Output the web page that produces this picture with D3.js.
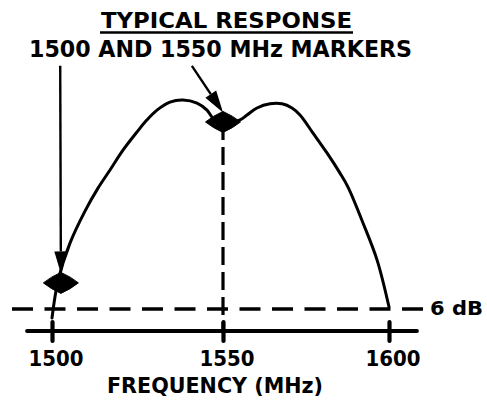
<!DOCTYPE html>
<html>
<head>
<meta charset="utf-8">
<script src="https://cdn.jsdelivr.net/npm/d3@7"></script>
<style>
  body { margin: 0; background: #fff; }
  svg { display: block; }
  text { font-family: "DejaVu Sans", sans-serif; font-weight: bold; fill: #000; }
</style>
</head>
<body>
<svg id="chart" width="487" height="400"></svg>
<script>
// Frequency axis ticks (MHz)
const freqTicks = [1500, 1550, 1600];

// Response trace: frequency (MHz) and relative level (dB)
const traceFreq = [1500, 1501.75, 1505.26, 1509.65, 1513.45, 1516.96, 1520.76, 1524.85,
                   1527.78, 1530.70, 1534.50, 1538.30, 1542.40, 1545.32, 1547.08, 1550.0,
                   1555.12, 1557.23, 1560.24, 1564.16, 1567.77, 1570.78, 1573.19, 1577.11,
                   1581.32, 1585.24, 1587.65, 1592.17, 1596.39, 1600];
const traceLevel = [-6.26, -5.20, -4.11, -3.19, -2.53, -2.01, -1.44, -0.92,
                    -0.57, -0.29, -0.06, 0.00, -0.09, -0.29, -0.52, -0.66,
                    -0.57, -0.43, -0.23, -0.11, -0.11, -0.23, -0.43, -0.95,
                    -1.52, -2.10, -2.50, -3.53, -4.59, -5.94];

// Marker positions on the trace
const markerFreq = [1502.6, 1550.0];
const markerLevel = [-5.25, -0.63];

// Arrow tails (pointing from the caption down to each marker)
const arrowTailFreq = [1502.4, 1540.9];
const arrowTailLevel = [0.98, 0.98];

// Reference level line
const refLevel = -6;
const refLabel = "6 dB";

const titleText = "TYPICAL RESPONSE";
const subtitleText = "1500 AND 1550 MHz MARKERS";
const xTitle = "FREQUENCY (MHz)";

const svg = d3.select("#chart");
const ink = "#000";

const x = d3.scaleLinear().domain(freqTicks).range([52, 223, 389]);
const y = d3.scaleLinear().domain([0, -6]).range([100, 309]);
const axisY = 331;

// Caption
svg.append("text").attr("x", 101).attr("y", 28)
  .attr("font-size", 22).attr("textLength", 251).attr("lengthAdjust", "spacingAndGlyphs")
  .text(titleText);
svg.append("line").attr("x1", 100).attr("x2", 353).attr("y1", 32.5).attr("y2", 32.5)
  .attr("stroke", ink).attr("stroke-width", 2.5);
svg.append("text").attr("x", 29).attr("y", 57)
  .attr("font-size", 23).attr("textLength", 383).attr("lengthAdjust", "spacingAndGlyphs")
  .text(subtitleText);

// Reference (-6 dB) dashed line
svg.append("line")
  .attr("x1", 12).attr("x2", 424)
  .attr("y1", y(refLevel)).attr("y2", y(refLevel))
  .attr("stroke", ink).attr("stroke-width", 3.5)
  .attr("stroke-dasharray", "21,11.5");
svg.append("text").attr("x", 430).attr("y", 315)
  .attr("font-size", 20).attr("textLength", 53).attr("lengthAdjust", "spacingAndGlyphs")
  .text(refLabel);

// Vertical dashed line under the 1550 marker
svg.append("line")
  .attr("x1", x(markerFreq[1])).attr("x2", x(markerFreq[1]))
  .attr("y1", y(markerLevel[1])).attr("y2", axisY)
  .attr("stroke", ink).attr("stroke-width", 3.2)
  .attr("stroke-dasharray", "18,7");

// Frequency axis
const axis = d3.axisBottom(x).tickValues(freqTicks).tickSize(0).tickFormat("");
const gAxis = svg.append("g").attr("transform", `translate(0,${axisY})`).call(axis);
gAxis.select(".domain").remove();
gAxis.append("line").attr("x1", 27).attr("x2", 417)
  .attr("stroke", ink).attr("stroke-width", 3.8).attr("stroke-linecap", "round");
gAxis.selectAll(".tick line")
  .attr("y1", -9).attr("y2", 10)
  .attr("stroke", ink).attr("stroke-width", 4.2).attr("stroke-linecap", "round");

// Tick labels
const tickLabelWidth = 55;
svg.selectAll(".ticklabel").data(freqTicks).join("text")
  .attr("class", "ticklabel")
  .attr("x", d => x(d) + 4 - tickLabelWidth / 2)
  .attr("y", 366)
  .attr("font-size", 22).attr("textLength", tickLabelWidth).attr("lengthAdjust", "spacingAndGlyphs")
  .text(d => d);

svg.append("text").attr("x", 107).attr("y", 393)
  .attr("font-size", 22).attr("textLength", 216).attr("lengthAdjust", "spacingAndGlyphs")
  .text(xTitle);

// Response trace
const trace = traceFreq.map((f, i) => [f, traceLevel[i]]);
const lineGen = d3.line().x(d => x(d[0])).y(d => y(d[1])).curve(d3.curveCatmullRom.alpha(0.5));
svg.append("path").datum(trace)
  .attr("d", lineGen)
  .attr("fill", "none").attr("stroke", ink).attr("stroke-width", 3)
  .attr("stroke-linejoin", "round").attr("stroke-linecap", "round");

// Diamond markers (slightly swollen sides, like an inked stencil)
const halfW = 17.5, halfH = 10.5, bulge = 1.15;
svg.selectAll(".marker").data(markerFreq).join("path")
  .attr("class", "marker")
  .attr("d", (f, i) => {
    const cx = x(f), cy = y(markerLevel[i]);
    const qx = halfW / 2 * bulge, qy = halfH / 2 * bulge;
    return `M${cx},${cy - halfH} Q${cx + qx},${cy - qy} ${cx + halfW},${cy}
            Q${cx + qx},${cy + qy} ${cx},${cy + halfH}
            Q${cx - qx},${cy + qy} ${cx - halfW},${cy}
            Q${cx - qx},${cy - qy} ${cx},${cy - halfH}Z`;
  })
  .attr("fill", ink).attr("stroke", ink).attr("stroke-width", 1).attr("stroke-linejoin", "round");

// Arrows from caption to markers
const headLen = 22, headHalf = 6.5;
markerFreq.forEach((f, i) => {
  const x0 = x(arrowTailFreq[i]), y0 = y(arrowTailLevel[i]);
  const x1 = x(f), y1 = y(markerLevel[i]) - halfH + 1;
  const dx = x1 - x0, dy = y1 - y0, len = Math.hypot(dx, dy);
  const ux = dx / len, uy = dy / len;
  const bx = x1 - ux * headLen, by = y1 - uy * headLen;
  svg.append("line").attr("x1", x0).attr("y1", y0).attr("x2", bx).attr("y2", by)
    .attr("stroke", ink).attr("stroke-width", 2.4);
  svg.append("path")
    .attr("d", `M${x1},${y1} L${bx - uy * headHalf},${by + ux * headHalf} L${bx + uy * headHalf},${by - ux * headHalf}Z`)
    .attr("fill", ink);
});
</script>
</body>
</html>
